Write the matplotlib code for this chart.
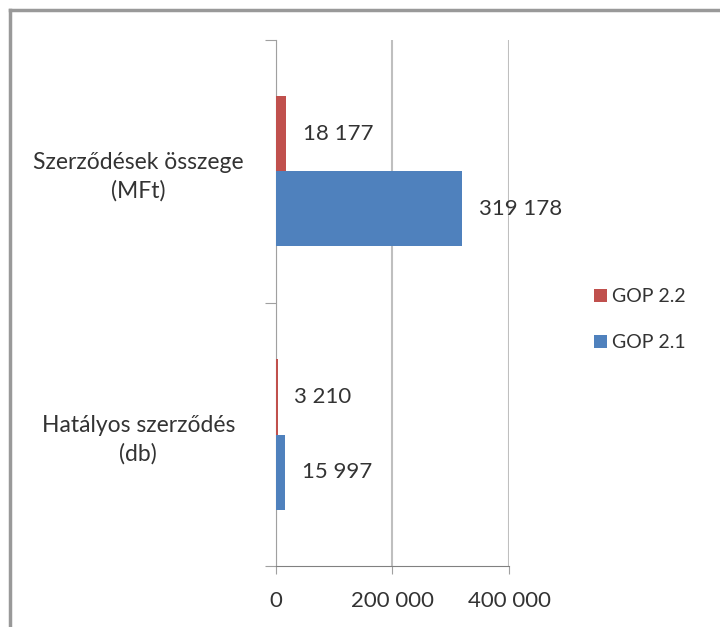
import matplotlib.pyplot as plt
from matplotlib.lines import Line2D
import numpy as np

plt.rcParams['font.family'] = ['Lato', 'DejaVu Sans']

kategoriak = ["Hatályos szerződés\n(db)", "Szerződések összege\n(MFt)"]
gop21 = [15997, 319178]
gop22 = [3210, 18177]
feliratok21 = ["15 997", "319 178"]
feliratok22 = ["3 210", "18 177"]
osztasok = [0, 200000, 400000]
osztas_cimkek = ["0", "200 000", "400 000"]

kek = "#4F81BD"
piros = "#C0504D"
szoveg = "#333333"

fig = plt.figure(figsize=(7.2, 6.27), dpi=100)
ax = fig.add_axes([0.383, 0.097, 0.324, 0.84])

y = np.arange(len(kategoriak))
h = 0.285
ax.barh(y - h / 2, gop21, height=h, color=kek, label="GOP 2.1", zorder=3)
ax.barh(y + h / 2, gop22, height=h, color=piros, label="GOP 2.2", zorder=3)

# adatcimkek a savok vegen
for yy, v, t in zip(y - h / 2, gop21, feliratok21):
    ax.annotate(t, (v, yy), xytext=(12, 0), textcoords="offset points",
                va="center", ha="left", fontsize=16, color=szoveg)
for yy, v, t in zip(y + h / 2, gop22, feliratok22):
    ax.annotate(t, (v, yy), xytext=(12, 0), textcoords="offset points",
                va="center", ha="left", fontsize=16, color=szoveg)

ax.set_xlim(0, 400000)
ax.set_ylim(-0.5, 1.5)
ax.set_xticks(osztasok)
ax.set_xticklabels(osztas_cimkek, fontsize=16, color=szoveg)
ax.set_yticks([-0.5, 0.5, 1.5])
ax.set_yticklabels([])
ax.set_yticks(y, minor=True)
ax.set_yticklabels(kategoriak, minor=True, fontsize=16.5, color=szoveg,
                   linespacing=1.4)
ax.tick_params(axis="y", which="minor", length=0, pad=99)
ax.tick_params(axis="y", which="major", length=8, color="#A0A0A0")
ax.tick_params(axis="x", length=6, color="#A0A0A0", pad=12)

ax.grid(axis="x", color="#BFBFBF", linewidth=1.5, zorder=0)
for s in ["top", "right"]:
    ax.spines[s].set_visible(False)
ax.spines["left"].set_color("#A0A0A0")
ax.spines["bottom"].set_color("#808080")

for lbl in ax.get_yticklabels(minor=True):
    lbl.set_horizontalalignment("center")

handles, labels = ax.get_legend_handles_labels()
fig.legend(handles[::-1], labels[::-1], loc="center left", bbox_to_anchor=(0.8, 0.49),
           frameon=False, fontsize=14, handlelength=0.7, handleheight=0.7,
           handletextpad=0.25, labelspacing=1.5, labelcolor=szoveg)

# keret (csak bal es felso el latszik)
fig.add_artist(Line2D([0.014, 0.014], [0, 0.984], transform=fig.transFigure,
                      color="#999999", linewidth=2.5))
fig.add_artist(Line2D([0.014, 1], [0.984, 0.984], transform=fig.transFigure,
                      color="#999999", linewidth=2.5))

fig.savefig("out.png", dpi=100)
